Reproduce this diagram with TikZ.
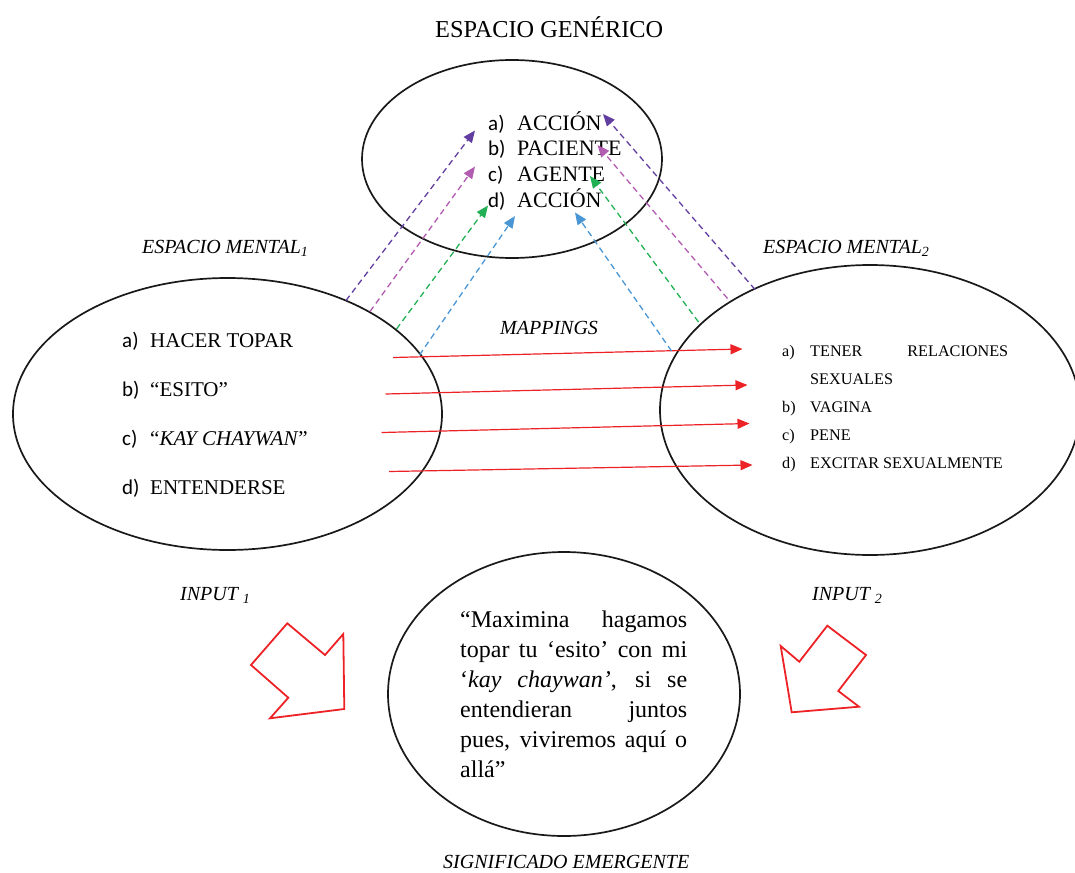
\documentclass[tikz,border=0pt]{standalone}
\usepackage{fontspec}
\setmainfont{Liberation Serif}
\newfontfamily\labfont{Carlito}
\usetikzlibrary{shapes.geometric,arrows.meta}
\definecolor{mapred}{RGB}{236,34,39}
\definecolor{lnpurple}{RGB}{98,62,160}
\definecolor{lnmagenta}{RGB}{178,92,178}
\definecolor{lngreen}{RGB}{34,176,84}
\definecolor{lnblue}{RGB}{74,150,212}
\begin{document}
\begin{tikzpicture}[x=1pt,y=-1pt,
  oval/.style={draw=black!90,line width=1.7pt,ellipse,inner sep=0pt},
  txt/.style={inner sep=0pt,anchor=base west},
  toplist/.style={txt,font=\fontsize{22}{24}\selectfont},
  leftlist/.style={txt,font=\fontsize{21}{24}\selectfont},
  rightlist/.style={txt,font=\fontsize{16.2}{18}\selectfont},
  caption/.style={txt,font=\fontsize{20}{24}\selectfont\itshape},
  mapping/.style={draw=mapred,line width=1.2pt,-{Triangle[length=12pt,width=10pt]}},
  link/.style={line width=1.3pt,dash pattern=on 6pt off 4pt,-{Triangle[length=12pt,width=10pt]}},
  hollow/.style={draw=mapred,line width=1.8pt,line join=miter}]
\useasboundingbox (0,0) rectangle (1075,872);

% the four spaces
\node[oval,minimum width=300pt,minimum height=198pt] (gen) at (512,159) {};
\node[oval,minimum width=429pt,minimum height=272pt] (ment1) at (227.5,414) {};
\node[oval,minimum width=420pt,minimum height=290pt] (ment2) at (870,410) {};
\node[oval,minimum width=352pt,minimum height=284pt] (emerg) at (564,694) {};

% titles and captions
\node[txt,font=\fontsize{24.3}{28}\selectfont] (title) at (435,37.5) {ESPACIO GENÉRICO};
\node[caption] (cap1) at (142,253) {ESPACIO MENTAL\textsubscript{1}};
\node[caption] (cap2) at (763,253) {ESPACIO MENTAL\textsubscript{2}};
\node[caption] (capmap) at (500,334) {MAPPINGS};
\node[caption] (in1) at (180,600) {INPUT \textsubscript{1}};
\node[caption] (in2) at (812,600) {INPUT \textsubscript{2}};
\node[caption] (capem) at (443,868) {SIGNIFICADO EMERGENTE};

% generic space
\node[toplist,font=\fontsize{21}{24}\labfont] (ga) at (488,130) {a)};
\node[toplist] (gat) at (517,130) {ACCIÓN};
\node[toplist,font=\fontsize{21}{24}\labfont] (gb) at (488,155.5) {b)};
\node[toplist] (gbt) at (517,155.5) {PACIENTE};
\node[toplist,font=\fontsize{21}{24}\labfont] (gc) at (488,181) {c)};
\node[toplist] (gct) at (517,181) {AGENTE};
\node[toplist,font=\fontsize{21}{24}\labfont] (gd) at (488,207) {d)};
\node[toplist] (gdt) at (517,207) {ACCIÓN};

% mental space 1
\node[leftlist,font=\fontsize{21}{24}\labfont] (la) at (122,347.5) {a)};
\node[leftlist] (lat) at (150,347.5) {HACER TOPAR};
\node[leftlist,font=\fontsize{21}{24}\labfont] (lb) at (122,396) {b)};
\node[leftlist] (lbt) at (150,396) {“ESITO”};
\node[leftlist,font=\fontsize{21}{24}\labfont] (lc) at (122,445) {c)};
\node[leftlist] (lct) at (150,445) {“\textit{KAY CHAYWAN}”};
\node[leftlist,font=\fontsize{21}{24}\labfont] (ld) at (122,494) {d)};
\node[leftlist] (ldt) at (150,494) {ENTENDERSE};

% mental space 2
\node[rightlist] (ra) at (782,356) {a)};
\node[rightlist] (rat) at (810,356) {\makebox[198pt][s]{TENER RELACIONES}};
\node[rightlist] (rat2) at (810,384.5) {SEXUALES};
\node[rightlist] (rb) at (782,412.5) {b)};
\node[rightlist] (rbt) at (810,412.5) {VAGINA};
\node[rightlist] (rc) at (782,440.5) {c)};
\node[rightlist] (rct) at (810,440.5) {PENE};
\node[rightlist] (rd) at (782,468.5) {d)};
\node[rightlist] (rdt) at (810,468.5) {EXCITAR SEXUALMENTE};

% emergent meaning, justified lines
\begin{scope}[every node/.style={txt,font=\fontsize{24}{30}\selectfont}]
\node (e1) at (460,627) {\makebox[227pt][s]{“Maximina hagamos}};
\node (e2) at (460,657) {\makebox[227pt][s]{topar tu ‘esito’ con mi}};
\node (e3) at (460,687) {\makebox[227pt][s]{‘\textit{kay chaywan’}, si se}};
\node (e4) at (460,717) {\makebox[227pt][s]{entendieran juntos}};
\node (e5) at (460,747) {\makebox[227pt][s]{pues, viviremos aquí o}};
\node (e6) at (460,777) {allá”};
\end{scope}

% end points of the connectors
\coordinate (m1s) at (393,357.5);  \coordinate (m1e) at (742.5,349);
\coordinate (m2s) at (385.5,394);  \coordinate (m2e) at (747.5,385);
\coordinate (m3s) at (381.5,432.5);\coordinate (m3e) at (749.5,423.5);
\coordinate (m4s) at (389,471.5);  \coordinate (m4e) at (752.5,465);

\coordinate (lp1) at (346,300.5);  \coordinate (lp2) at (475,130.5);
\coordinate (lm1) at (370,311.5);  \coordinate (lm2) at (475,166.5);
\coordinate (lg1) at (396.5,329);  \coordinate (lg2) at (488,205.5);
\coordinate (lb1) at (419.5,355);  \coordinate (lb2) at (515,216);

\coordinate (rp1) at (755,289.5);  \coordinate (rp2) at (603,114);
\coordinate (rm1) at (727.5,298.5);\coordinate (rm2) at (597.5,145);
\coordinate (rg1) at (698.5,322);  \coordinate (rg2) at (590,176);
\coordinate (rb1) at (671.5,351);  \coordinate (rb2) at (575,212.5);

% cross-space mappings
\draw[mapping] (m1s) -- (m1e);
\draw[mapping] (m2s) -- (m2e);
\draw[mapping] (m3s) -- (m3e);
\draw[mapping] (m4s) -- (m4e);

% projections into the generic space
\draw[link,lnpurple] (lp1) -- (lp2);
\draw[link,lnmagenta] (lm1) -- (lm2);
\draw[link,lngreen] (lg1) -- (lg2);
\draw[link,lnblue] (lb1) -- (lb2);
\draw[link,lnpurple] (rp1) -- (rp2);
\draw[link,lnmagenta] (rm1) -- (rm2);
\draw[link,lngreen] (rg1) -- (rg2);
\draw[link,lnblue] (rb1) -- (rb2);

% block arrows towards the blend
\draw[hollow] (287.3,623.3) -- (325,655) -- (343.3,634) -- (344.3,709)
  -- (270,718.3) -- (288.3,697.7) -- (251,665) -- cycle;
\draw[hollow] (827.3,625.7) -- (866,655) -- (838.3,691) -- (859,706.7)
  -- (791.7,712.3) -- (780.7,646) -- (799.3,661.7) -- cycle;
\end{tikzpicture}
\end{document}
